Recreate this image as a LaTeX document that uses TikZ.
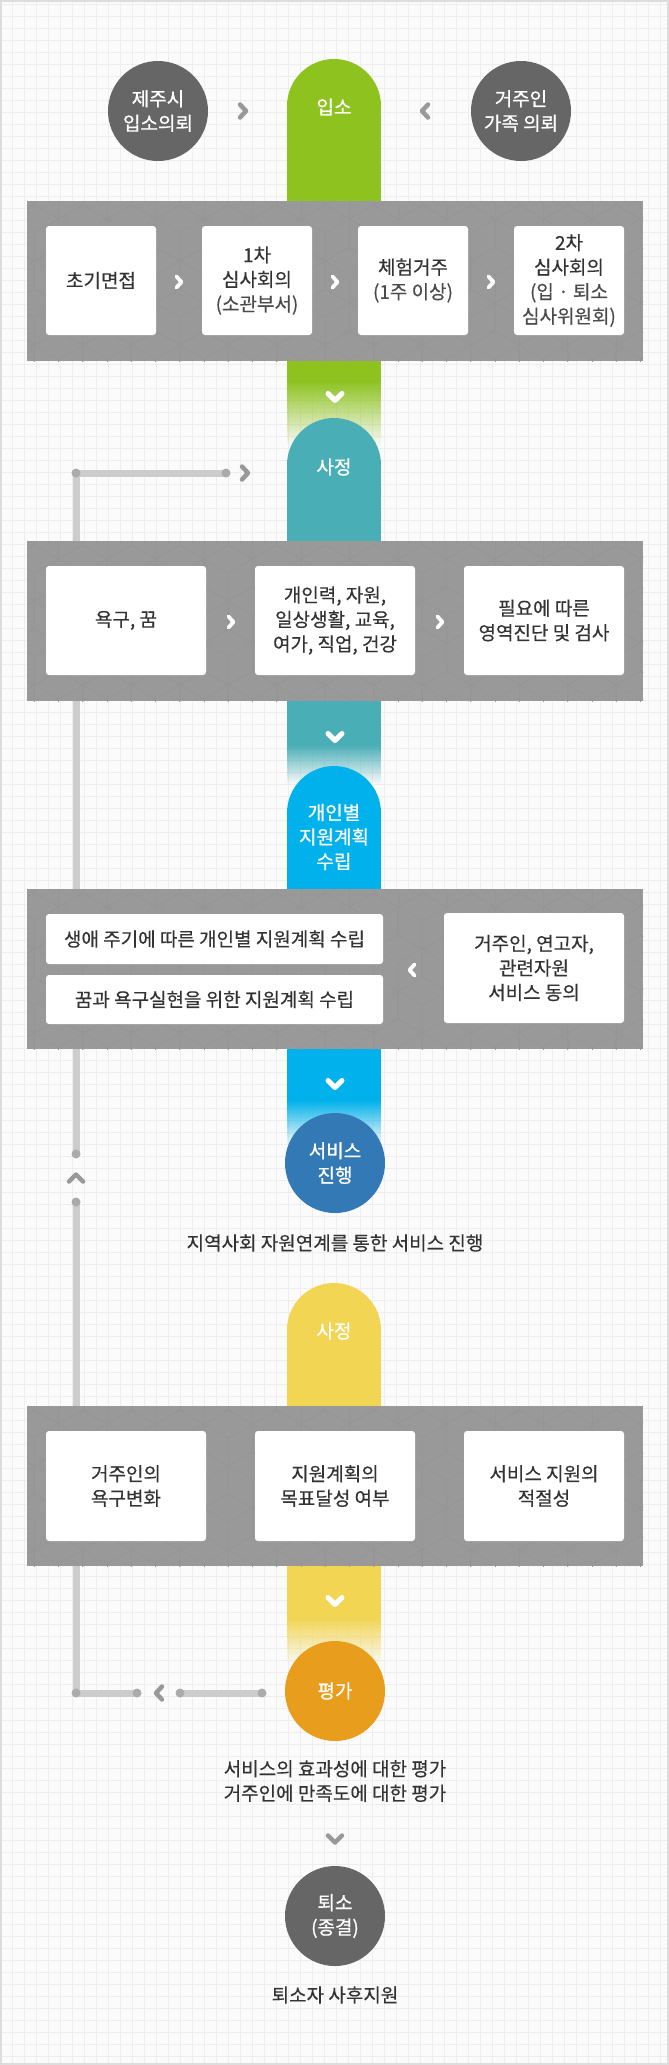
\documentclass[tikz,border=0pt]{standalone}
\usepackage{fontspec}
\setmainfont{Noto Sans CJK KR}
\newfontfamily\boxfont{Noto Sans CJK KR}[FakeBold=0.35]
\newfontfamily\whitefont{Noto Sans CJK KR}[FakeBold=0.8]
\usetikzlibrary{fadings}
\definecolor{pagebg}{HTML}{FBFBFB}
\definecolor{gridc}{HTML}{EEEEEE}
\definecolor{bordc}{HTML}{DDDDDD}
\definecolor{panelc}{HTML}{999999}
\definecolor{hexc}{HTML}{959595}
\definecolor{greenc}{HTML}{8DC21F}
\definecolor{tealc}{HTML}{4AAEB7}
\definecolor{cyanc}{HTML}{00B1EB}
\definecolor{bluec}{HTML}{3279B5}
\definecolor{yellowc}{HTML}{F2D553}
\definecolor{orangec}{HTML}{E89E1C}
\definecolor{darkc}{HTML}{666666}
\definecolor{txtc}{HTML}{333333}
\definecolor{txtl}{HTML}{4A4A4A}
\definecolor{linec}{HTML}{CCCCCC}
\definecolor{dotc}{HTML}{ABABAB}
\definecolor{chevc}{HTML}{999999}
\tikzfading[name=fadedown, top color=transparent!0, bottom color=transparent!100]
\tikzset{
  txtfont/.style={font=\boxfont\fontsize{19}{24.5}\selectfont},
  wfont/.style={font=\whitefont\fontsize{19}{24.5}\selectfont},
  boxnode/.style={fill=white, rounded corners=3pt, text=txtc, align=center, inner sep=0pt, txtfont},
  circnode/.style={circle, minimum size=100pt, inner sep=0pt, text=white, align=center, wfont},
  pilltext/.style={text=white, align=center, inner sep=0pt, wfont},
  caption/.style={text=txtc, align=center, inner sep=0pt, txtfont},
  gridline/.style={draw=gridc, line width=0.8pt},
  hexline/.style={draw=hexc, line width=0.6pt},
  fbline/.style={draw=linec, line width=7pt},
  fbdot/.style={fill=dotc},
  chevgray/.style={draw=chevc, line width=4.5pt, line cap=round, line join=round},
  chevwhite/.style={draw=white, line width=3.8pt, line cap=round, line join=round},
  chevwhitebig/.style={draw=white, line width=5pt, line cap=round, line join=round},
}
\newcommand\hexpanel[2]{%
  \begin{scope}
    \clip (27,#1) rectangle (643,#2);
    \fill[panelc] (27,#1) rectangle (643,#2);
    \foreach \r in {0,...,5}{
      \foreach \c in {0,...,14}{
        \pgfmathsetmacro\hcx{10+\c*48.5+mod(\r,2)*24.25}
        \pgfmathsetmacro\hcy{#1-10+\r*42}
        \draw[hexline] (\hcx,\hcy) +(0,-28) -- +(24.25,-14) -- +(24.25,14) -- +(0,28) -- +(-24.25,14) -- +(-24.25,-14) -- cycle;
        \draw[hexline] (\hcx,\hcy) -- +(0,28);
        \draw[hexline] (\hcx,\hcy) -- +(24.25,-14);
        \draw[hexline] (\hcx,\hcy) -- +(-24.25,-14);
      }
    }
  \end{scope}}
\begin{document}
\begin{tikzpicture}[x=1pt,y=-1pt]
\useasboundingbox (0,0) rectangle (669,2065);
% page background and grid
\fill[pagebg] (0,0) rectangle (669,2065);
\foreach \gx in {0,12,...,669} \draw[gridline] (\gx,0) -- (\gx,2065);
\foreach \gy in {4,16,...,2065} \draw[gridline] (0,\gy) -- (669,\gy);
\draw[bordc, line width=2pt] (1,1) rectangle (668,2064);

% feedback loop line
\coordinate (fbA) at (226,473);
\coordinate (fbB) at (76,473);
\coordinate (fbC) at (76,1154);
\coordinate (fbD) at (76,1202);
\coordinate (fbE) at (76,1693);
\coordinate (fbF) at (137,1693);
\coordinate (fbG) at (180,1693);
\coordinate (fbH) at (262,1693);
\draw[fbline] (fbA) -- (fbB) -- (fbC);
\draw[fbline] (fbD) -- (fbE) -- (fbF);
\draw[fbline] (fbG) -- (fbH);
\foreach \p in {fbA,fbB,fbC,fbD,fbE,fbF,fbG,fbH} \fill[fbdot] (\p) circle[radius=4.5pt];
\coordinate (fbR) at (245,473);
\coordinate (fbU) at (76,1178);
\coordinate (fbL) at (159,1693);
\draw[chevgray] (fbR) ++(-3,-6.5) -- ++(6,6.5) -- ++(-6,6.5);
\draw[chevgray] (fbU) ++(-7,3.5) -- ++(7,-7) -- ++(7,7);
\draw[chevgray] (fbL) ++(3,-6.5) -- ++(-6,6.5) -- ++(6,6.5);

% column 1 (green)
\fill[greenc] (334,106) circle[radius=47pt];
\fill[greenc] (287,106) rectangle (381,381);
\fill[greenc, path fading=fadedown] (287,380) rectangle (381,446);
% column 2 (teal)
\fill[tealc] (334,465) circle[radius=47pt];
\fill[tealc] (287,465) rectangle (381,746);
\fill[tealc, path fading=fadedown] (287,745) rectangle (381,784);
% column 3 (cyan)
\fill[cyanc] (334,813) circle[radius=47pt];
\fill[cyanc] (287,813) rectangle (381,1101);
\fill[cyanc, path fading=fadedown] (287,1100) rectangle (381,1145);
% column 4 (yellow)
\fill[yellowc] (334,1330) circle[radius=47pt];
\fill[yellowc] (287,1330) rectangle (381,1618);
\fill[yellowc, path fading=fadedown] (287,1617) rectangle (381,1665);

% pill labels
\node[pilltext] (p1) at (334,107) {입소};
\node[pilltext] (p2) at (334,467) {사정};
\node[pilltext] (p3) at (334,837) {개인별\\지원계획\\수립};
\node[pilltext] (p4) at (334,1331) {사정};

% white chevrons in columns
\coordinate (cv1) at (335,397);
\coordinate (cv2) at (335,737);
\coordinate (cv3) at (335,1084);
\coordinate (cv4) at (335,1601);
\foreach \p in {cv1,cv2,cv3,cv4} \draw[chevwhitebig] (\p) ++(-7,-3.5) -- ++(7,7) -- ++(7,-7);

% top circles
\node[circnode, fill=darkc] (jeju) at (158,111) {제주시\\입소의뢰};
\node[circnode, fill=darkc] (family) at (521,111) {거주인\\가족 의뢰};
\coordinate (tc1) at (243,111);
\coordinate (tc2) at (425,111);
\draw[chevgray] (tc1) ++(-3,-6.5) -- ++(6,6.5) -- ++(-6,6.5);
\draw[chevgray] (tc2) ++(3,-6.5) -- ++(-6,6.5) -- ++(6,6.5);

% panel 1
\hexpanel{201}{361}
\node[boxnode, minimum width=110pt, minimum height=109pt] (b11) at (101,280.5) {초기면접};
\node[boxnode, minimum width=110pt, minimum height=109pt] (b12) at (257,280.5) {1차\\심사회의\\{\color{txtl}(소관부서)}};
\node[boxnode, minimum width=110pt, minimum height=109pt] (b13) at (413,280.5) {체험거주\\{\color{txtl}(1주 이상)}};
\node[boxnode, minimum width=110pt, minimum height=109pt] (b14) at (569,280.5) {2차\\심사회의\\{\color{txtl}(입 · 퇴소}\\{\color{txtl}심사위원회)}};
\foreach \cx in {179,335,491} \draw[chevwhite] (\cx,282) ++(-2.5,-5.5) -- ++(5,5.5) -- ++(-5,5.5);

% panel 2
\hexpanel{541}{701}
\node[boxnode, minimum width=160pt, minimum height=109pt] (b21) at (126,620.5) {욕구, 꿈};
\node[boxnode, minimum width=160pt, minimum height=109pt] (b22) at (335,620.5) {개인력, 자원,\\일상생활, 교육,\\여가, 직업, 건강};
\node[boxnode, minimum width=160pt, minimum height=109pt] (b23) at (544,620.5) {필요에 따른\\영역진단 및 검사};
\foreach \cx in {231,440} \draw[chevwhite] (\cx,622) ++(-2.5,-5.5) -- ++(5,5.5) -- ++(-5,5.5);

% panel 3
\hexpanel{889}{1049}
\node[boxnode, minimum width=337pt, minimum height=50pt] (b31) at (214.5,939) {생애 주기에 따른 개인별 지원계획 수립};
\node[boxnode, minimum width=337pt, minimum height=49pt] (b32) at (214.5,999.5) {꿈과 욕구실현을 위한 지원계획 수립};
\node[boxnode, minimum width=180pt, minimum height=110pt] (b33) at (534,968) {거주인, 연고자,\\관련자원\\서비스 동의};
\draw[chevwhite] (412,970) ++(2.5,-5.5) -- ++(-5,5.5) -- ++(5,5.5);

% service circle
\node[circnode, fill=bluec] (svc) at (335,1163) {서비스\\진행};
\node[caption] (cap1) at (335,1243) {지역사회 자원연계를 통한 서비스 진행};

% panel 4
\hexpanel{1406}{1566}
\node[boxnode, minimum width=160pt, minimum height=110pt] (b41) at (126,1486) {거주인의\\욕구변화};
\node[boxnode, minimum width=160pt, minimum height=110pt] (b42) at (335,1486) {지원계획의\\목표달성 여부};
\node[boxnode, minimum width=160pt, minimum height=110pt] (b43) at (544,1486) {서비스 지원의\\적절성};

% evaluation
\node[circnode, fill=orangec] (eval) at (335,1691) {평가};
\node[caption] (cap2) at (335,1781) {서비스의 효과성에 대한 평가\\거주인에 만족도에 대한 평가};
\coordinate (cvb) at (335,1839);
\draw[chevgray] (cvb) ++(-7,-3.5) -- ++(7,7) -- ++(7,-7);
\node[circnode, fill=darkc] (exit) at (335,1916) {퇴소\\(종결)};
\node[caption] (cap3) at (335,1995) {퇴소자 사후지원};
\end{tikzpicture}
\end{document}
